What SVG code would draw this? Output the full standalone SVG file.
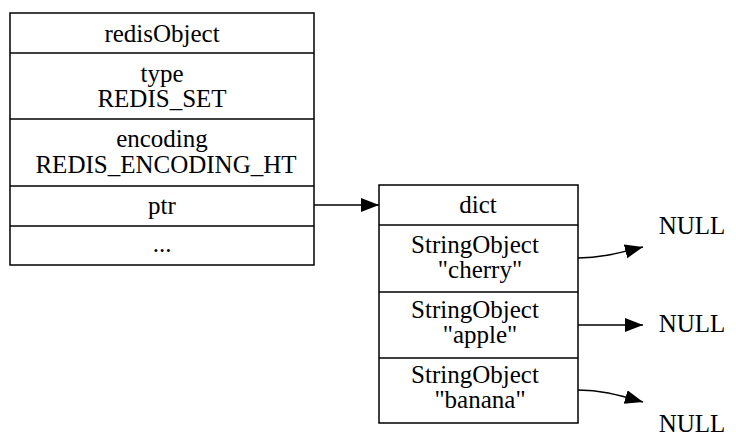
<svg xmlns="http://www.w3.org/2000/svg" width="736" height="442" viewBox="0 0 736 442">
<style>
.box{fill:#fff;stroke:#000;stroke-width:1.5}
.div{stroke:#000;stroke-width:1.5}
text{font-family:"Liberation Serif","Times New Roman",serif;font-size:25px;fill:#000;text-anchor:middle}
.edge{fill:none;stroke:#000;stroke-width:1.5}
</style>
<defs>
<marker id="ah" markerUnits="userSpaceOnUse" markerWidth="20" markerHeight="16" refX="18" refY="7" orient="auto">
<path d="M0,0 L18,7 L0,14 z" fill="#000"/>
</marker>
</defs>
<rect width="736" height="442" fill="#fff"/>
<g id="redisObject">
<rect class="box" x="10" y="13" width="304" height="252"/>
<line class="div" x1="10" y1="53" x2="314" y2="53"/>
<line class="div" x1="10" y1="119" x2="314" y2="119"/>
<line class="div" x1="10" y1="186" x2="314" y2="186"/>
<line class="div" x1="10" y1="226" x2="314" y2="226"/>
<text x="162" y="42">redisObject</text>
<text x="162" y="82">type</text>
<text x="162" y="107">REDIS_SET</text>
<text x="162" y="147">encoding</text>
<text x="166" y="173">REDIS_ENCODING_HT</text>
<text x="162" y="214">ptr</text>
<text x="162" y="252">...</text>
</g>
<g id="dict">
<rect class="box" x="379" y="185" width="199" height="238"/>
<line class="div" x1="379" y1="225" x2="578" y2="225"/>
<line class="div" x1="379" y1="292" x2="578" y2="292"/>
<line class="div" x1="379" y1="358" x2="578" y2="358"/>
<text x="478" y="213">dict</text>
<text x="475" y="253">StringObject</text>
<text x="480" y="278">"cherry"</text>
<text x="475" y="318">StringObject</text>
<text x="480" y="343">"apple"</text>
<text x="475" y="383">StringObject</text>
<text x="480" y="408">"banana"</text>
</g>
<g id="null1"><text x="692" y="234">NULL</text></g>
<g id="null2"><text x="692" y="332">NULL</text></g>
<g id="null3"><text x="692" y="432">NULL</text></g>
<g id="connectors">
<path class="edge" d="M314,205 L379,205" marker-end="url(#ah)"/>
<path class="edge" d="M578,258 C600,258 615,254 643,247" marker-end="url(#ah)"/>
<path class="edge" d="M578,325 L643,325" marker-end="url(#ah)"/>
<path class="edge" d="M578,390 C600,390 615,394 643,402" marker-end="url(#ah)"/>
</g>
</svg>
